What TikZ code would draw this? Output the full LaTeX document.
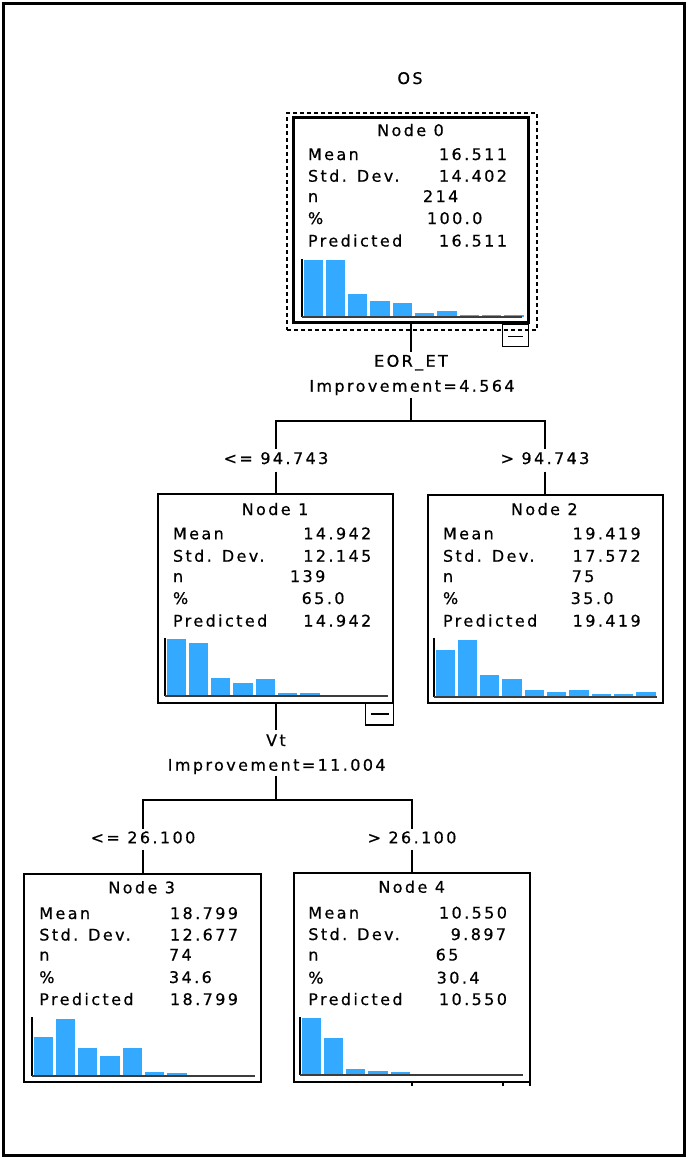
\documentclass[tikz,border=0pt]{standalone}
\usepackage{fontspec}
\setmainfont{DejaVu Sans}[LetterSpace=15,FakeBold=0.6]
\definecolor{barblue}{RGB}{51,170,255}
\definecolor{axisgray}{RGB}{60,60,60}
\newcommand{\mkhist}[5]{%
  \foreach \h [count=\i from 0] in {#5} {
    \fill[barblue] ({#1+1.5+\i*22.3},#2) rectangle ++(19.3,-\h);
  }
  \draw[line width=1.6pt] (#1,#3) -- (#1,#2);
  \draw[line width=2.2pt,axisgray] (#1,#2) -- (#4,#2);
}
\tikzset{
  every node/.style={font=\fontsize{16pt}{18pt}\selectfont, inner sep=0pt, outer sep=0pt},
  txt/.style={anchor=base west},
  ttl/.style={anchor=base},
  lab/.style={anchor=base, text height=11.5pt, text depth=3.5pt, inner ysep=3pt},
  treebox/.style={draw, line width=1.8pt},
  selbox/.style={draw, line width=1.4pt, dash pattern=on 4pt off 3pt},
  collbox/.style={draw, line width=1.4pt},
  minusline/.style={line width=1.6pt},
  conn/.style={line width=1.6pt}
}
\begin{document}
\begin{tikzpicture}[x=1pt,y=-1pt]
\useasboundingbox (0,0) rectangle (688,1159);
\draw[line width=3pt] (3.5,3.5) rectangle (684.5,1155.5);

\node[ttl] (os) at (410,84) {OS};

% ---------- Node 0
\node[selbox, minimum width=250pt, minimum height=217pt] (n0sel) at (412,221.5) {};
\node[treebox, line width=3pt, minimum width=235pt, minimum height=205pt] (n0) at (410.5,219.5) {};
\node[collbox, minimum width=25.5pt, minimum height=22.5pt] (n0c) at (515.5,335.3) {};
\draw[minusline] ([xshift=-7.5pt,yshift=-1pt]n0c.center) -- ([xshift=7.5pt,yshift=-1pt]n0c.center);
\node[ttl] (n0t) at (410.5,136) {Node 0};
\node[txt] (n0l1) at (308,160) {Mean};
\node[txt] (n0v1) at (439,160) {16.511};
\node[txt] (n0l2) at (308,181.7) {Std. Dev.};
\node[txt] (n0v2) at (439,181.7) {14.402};
\node[txt] (n0l3) at (308,202) {n};
\node[txt] (n0v3) at (423,202) {214};
\node[txt] (n0l4) at (308,224) {\%};
\node[txt] (n0v4) at (427,224) {100.0};
\node[txt] (n0l5) at (308,246.5) {Predicted};
\node[txt] (n0v5) at (439,246.5) {16.511};
\mkhist{302}{317}{259}{522}{57,57,23,16,14,4,6,2,2,2}

% ---------- split 0
\node[lab] (s0a) at (411,366.7) {EOR\_ET};
\node[lab] (s0b) at (412,391.7) {Improvement=4.564};
\coordinate (j0) at (411,421);
\node[lab, inner ysep=4pt] (b1) at (276,464) {<= 94.743};
\node[lab, inner ysep=4pt] (b2) at (545,464) {> 94.743};
\draw[conn] (n0.south -| s0a) -- (s0a.north);
\draw[conn] (s0b.south -| j0) -- (j0);
\draw[conn] (j0) -| (b1.north);
\draw[conn] (j0) -| (b2.north);

% ---------- Node 1
\node[treebox, minimum width=235pt, minimum height=209pt] (n1) at (275.5,598.5) {};
\node[collbox, minimum width=28pt, minimum height=22pt] (n1c) at (379.5,714) {};
\draw[minusline] ([xshift=-9pt]n1c.center) -- ([xshift=9pt]n1c.center);
\draw[conn] (b1.south) -- (b1.south |- n1.north);
\node[ttl] (n1t) at (275,515) {Node 1};
\node[txt] (n1l1) at (173,539.3) {Mean};
\node[txt] (n1v1) at (303.3,539.3) {14.942};
\node[txt] (n1l2) at (173,561.7) {Std. Dev.};
\node[txt] (n1v2) at (303.3,561.7) {12.145};
\node[txt] (n1l3) at (173,582) {n};
\node[txt] (n1v3) at (290,582) {139};
\node[txt] (n1l4) at (173,604) {\%};
\node[txt] (n1v4) at (301.7,604) {65.0};
\node[txt] (n1l5) at (173,626.5) {Predicted};
\node[txt] (n1v5) at (303.3,626.5) {14.942};
\mkhist{165}{696}{638}{388}{57,53,18,13,17,3,3}

% ---------- Node 2
\node[treebox, minimum width=235pt, minimum height=208pt] (n2) at (545.5,599) {};
\draw[conn] (b2.south) -- (b2.south |- n2.north);
\node[ttl] (n2t) at (544.3,515) {Node 2};
\node[txt] (n2l1) at (443,539.3) {Mean};
\node[txt] (n2v1) at (572.7,539.3) {19.419};
\node[txt] (n2l2) at (443,561.7) {Std. Dev.};
\node[txt] (n2v2) at (572.7,561.7) {17.572};
\node[txt] (n2l3) at (443,582) {n};
\node[txt] (n2v3) at (571.7,582) {75};
\node[txt] (n2l4) at (443,604) {\%};
\node[txt] (n2v4) at (570.7,604) {35.0};
\node[txt] (n2l5) at (443,626.5) {Predicted};
\node[txt] (n2v5) at (572.7,626.5) {19.419};
\mkhist{434}{697}{638}{657}{47,57,22,18,7,5,7,3,3,5}

% ---------- split 1
\node[lab, inner ysep=5pt] (s1a) at (276,746) {Vt};
\node[lab, inner ysep=2pt] (s1b) at (276.7,770.7) {Improvement=11.004};
\coordinate (j1) at (276,800);
\node[lab] (b3) at (143,843.3) {<= 26.100};
\node[lab] (b4) at (412,843.3) {> 26.100};
\draw[conn] (n1.south -| s1a) -- (s1a.north);
\draw[conn] (s1b.south -| j1) -- (j1);
\draw[conn] (j1) -| (b3.north);
\draw[conn] (j1) -| (b4.north);

% ---------- Node 3
\node[treebox, minimum width=237pt, minimum height=208pt] (n3) at (142.5,978) {};
\draw[conn] (b3.south) -- (b3.south |- n3.north);
\node[ttl] (n3t) at (141.7,893.3) {Node 3};
\node[txt] (n3l1) at (39.3,919) {Mean};
\node[txt] (n3v1) at (170,919) {18.799};
\node[txt] (n3l2) at (39.3,940.5) {Std. Dev.};
\node[txt] (n3v2) at (170,940.5) {12.677};
\node[txt] (n3l3) at (39.3,960.5) {n};
\node[txt] (n3v3) at (169,960.5) {74};
\node[txt] (n3l4) at (39.3,983) {\%};
\node[txt] (n3v4) at (169,983) {34.6};
\node[txt] (n3l5) at (39.3,1005) {Predicted};
\node[txt] (n3v5) at (170,1005) {18.799};
\mkhist{32}{1076}{1017}{255}{39,57,28,20,28,4,3}

% ---------- Node 4
\node[treebox, minimum width=236pt, minimum height=209pt] (n4) at (412,977.5) {};
\draw[conn] (b4.south) -- (b4.south |- n4.north);
\draw[line width=1.4pt] ([xshift=0pt]n4.south) -- ++(0,4);
\draw[line width=1.4pt] ([xshift=91pt]n4.south) -- ++(0,4);
\draw[line width=1.4pt] (n4.south east) -- ++(0,4);
\node[ttl] (n4t) at (411.7,892.7) {Node 4};
\node[txt] (n4l1) at (308.3,918.5) {Mean};
\node[txt] (n4v1) at (439,918.5) {10.550};
\node[txt] (n4l2) at (308.3,940) {Std. Dev.};
\node[txt] (n4v2) at (450.7,940) {9.897};
\node[txt] (n4l3) at (308.3,960.5) {n};
\node[txt] (n4v3) at (435.7,960.5) {65};
\node[txt] (n4l4) at (308.3,983.5) {\%};
\node[txt] (n4v4) at (436.7,983.5) {30.4};
\node[txt] (n4l5) at (308.3,1005) {Predicted};
\node[txt] (n4v5) at (439,1005) {10.550};
\mkhist{300}{1075}{1017}{523}{57,37,6,4,3,0,1.5}
\end{tikzpicture}
\end{document}
